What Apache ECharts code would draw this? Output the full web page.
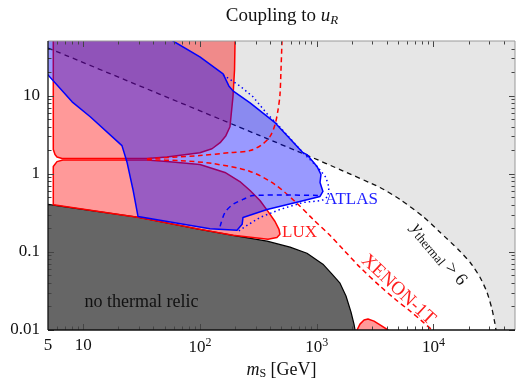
<!DOCTYPE html>
<html>
<head>
<meta charset="utf-8">
<script src="https://cdn.jsdelivr.net/npm/echarts@6/dist/echarts.min.js"></script>
<style>
  html, body { margin: 0; padding: 0; background: #fff; }
  #chart { width: 516px; height: 385px; }
</style>
</head>
<body>
<div id="chart"></div>
<script>
// ---- axis ticks ----
const xTickLabels = [5, 10, 100, 1000, 10000];
const yTickLabels = [0.01, 0.1, 1, 10];
const xMajorTicks = [10, 100, 1000, 10000];
const xMinorTicks = [6, 7, 8, 9, 20, 30, 40, 50, 60, 70, 80, 90, 200, 300, 400, 500, 600, 700, 800, 900,
  2000, 3000, 4000, 5000, 6000, 7000, 8000, 9000, 20000, 30000, 40000];
const yMajorTicks = [0.01, 0.1, 1, 10];
const yMinorTicks = [0.02, 0.03, 0.04, 0.05, 0.06, 0.07, 0.08, 0.09, 0.2, 0.3, 0.4, 0.5, 0.6, 0.7, 0.8, 0.9,
  2, 3, 4, 5, 6, 7, 8, 9, 20, 30, 40];

// ---- regions in the (m_S [GeV], coupling) plane ----
// y_thermal > 6 boundary
const thermalBoundary = [[5, 40.7], [327, 3.07], [877, 1.66], [1585, 1.13], [3491, 0.667], [5176, 0.469],
  [8147, 0.284], [11400, 0.178], [16250, 0.108], [20600, 0.0736], [25060, 0.0474], [28770, 0.0305],
  [31770, 0.0185], [33730, 0.0119], [34360, 0.01]];

// no thermal relic (upper edge)
const noRelicEdge = [[4.5, 0.41], [5, 0.405], [30.1, 0.276], [100, 0.194], [192, 0.163], [376, 0.137], [592, 0.115],
  [826, 0.096], [1132, 0.0695], [1355, 0.0518], [1585, 0.0398], [1784, 0.0272], [1968, 0.017],
  [2089, 0.0119], [2133, 0.01], [2150, 0.009]];

// LUX exclusion: two lobes meeting at the cancellation line
const luxUpperLobe = [[5.55, 60], [5.55, 2.04], [5.74, 1.76], [5.97, 1.64], [6.6, 1.57], [35.2, 1.57],
  [52.2, 1.64], [100, 1.86], [127, 2.09], [149, 2.5], [167, 3.07], [181, 4.0], [192, 9.66],
  [198, 21.3], [200, 50], [200, 60]];
const luxLowerLobe = [[6.7, 1.5], [35.2, 1.5], [52.2, 1.43], [100, 1.31], [164, 1.04], [220, 0.795],
  [269, 0.611], [327, 0.455], [383, 0.33], [440, 0.245], [476, 0.194], [485, 0.168], [457, 0.153],
  [383, 0.145], [192, 0.163], [100, 0.194], [30.1, 0.276], [5.55, 0.4], [5.55, 1.24], [5.97, 1.43]];
const luxHighMass = [[2218, 0.0095], [2218, 0.01], [2350, 0.0119], [2547, 0.0134], [2754, 0.0138],
  [3100, 0.013], [3491, 0.0116], [4083, 0.01], [4200, 0.0095]];

// ATLAS exclusion
const atlasRegion = [[4.5, 60], [58.9, 60], [58.9, 50], [100, 31.3], [158, 19.0], [177, 13.3], [192, 11.5],
  [269, 8.09], [440, 4.5], [764, 1.86], [826, 1.76], [1007, 1.24], [1089, 0.977], [1069, 0.772],
  [1132, 0.593], [1069, 0.512], [719, 0.442], [376, 0.349], [234, 0.276], [230, 0.225], [208, 0.189],
  [122, 0.197], [29.5, 0.284], [26.7, 0.629], [23.8, 1.39], [21.5, 2.29], [11.5, 5.37], [8.04, 8.33],
  [5, 18.4], [4.5, 20]];
const atlasDotted = [[158, 18.4], [220, 13.3], [285, 9.66], [376, 5.86], [448, 4.5], [764, 1.86],
  [1028, 1.2], [1203, 0.894], [1275, 0.667], [1250, 0.512], [1112, 0.455], [764, 0.429], [485, 0.349],
  [327, 0.276], [253, 0.218], [213, 0.183]];
const atlasDashed = [[149, 0.212], [164, 0.32], [192, 0.405], [234, 0.469], [285, 0.527], [1112, 0.527]];

// XENON-1T projection
const xenonUpper = [[35.2, 1.56], [100, 1.71], [181, 1.86], [269, 1.98], [340, 2.36], [398, 2.98],
  [440, 4.24], [467, 6.59], [485, 10.2], [495, 21.3], [505, 50]];
const xenonLower = [[35.2, 1.51], [67.6, 1.47], [129, 1.35], [269, 1.07], [440, 0.727], [679, 0.417],
  [931, 0.261], [1300, 0.163], [1683, 0.108], [2350, 0.0636], [3491, 0.0364], [4690, 0.0249],
  [6310, 0.0175], [7980, 0.013], [9730, 0.01]];

const SERIF = '"Liberation Serif", "Times New Roman", serif';

function shape(name, pts, o) {
  return {
    type: 'custom', name: name, coordinateSystem: 'cartesian2d', z: o.z, silent: true, clip: true,
    data: [pts[0]],
    renderItem: function (params, api) {
      return {
        type: o.closed ? 'polygon' : 'polyline',
        shape: { points: pts.map(function (p) { return api.coord(p); }), smooth: o.smooth || 0 },
        style: {
          fill: o.fill || 'none',
          stroke: o.stroke || 'none',
          lineWidth: o.lineWidth || 1,
          lineDash: o.dash || null,
          lineJoin: 'round'
        }
      };
    }
  };
}

const grayRegion = thermalBoundary.concat([[60000, 0.009], [60000, 60], [4.5, 60], [4.5, 40.9]]);
const noRelicRegion = noRelicEdge.concat([[4.5, 0.009]]);

// text annotations placed in data coordinates
const notes = [
  { text: 'ATLAS', at: [1180, 0.469], color: '#1f1fff', size: 17, align: 'left', angle: 0 },
  { text: 'LUX', at: [505, 0.178], color: '#ff1f1f', size: 17, align: 'left', angle: 0 },
  { text: 'no thermal relic', at: [31.6, 0.0227], color: '#111', size: 18, align: 'center', angle: 0 },
  { text: 'XENON-1T', at: [5000, 0.0327], color: '#ff1f1f', size: 19, align: 'center', angle: -43 },
  { text: '{y|y}{s|thermal}{t| > 6}', at: [11170, 0.0931], color: '#111', size: 18, align: 'center', angle: -50 }
];

const chart = echarts.init(document.getElementById('chart'), null, { renderer: 'canvas' });

const option = {
  animation: false,
  backgroundColor: '#fff',
  grid: { left: 48, right: 1, top: 41, bottom: 54, containLabel: false },
  graphic: [{
    type: 'text', x: 282, y: 16,
    style: {
      text: 'Coupling to {u|u}{r|R}', fill: '#111', font: '19px ' + SERIF,
      align: 'center', verticalAlign: 'middle',
      rich: {
        u: { fontFamily: SERIF, fontSize: 19, fontStyle: 'italic', fill: '#111' },
        r: { fontFamily: SERIF, fontSize: 13, fontStyle: 'italic', fill: '#111', padding: [9, 0, 0, 0] }
      }
    }
  }],
  xAxis: {
    type: 'log', logBase: 10, min: 5, max: 50000,
    axisLine: { show: false }, axisTick: { show: false }, splitLine: { show: false }, minorTick: { show: false },
    axisLabel: {
      customValues: xTickLabels, margin: 7, color: '#111', fontFamily: SERIF, fontSize: 17,
      formatter: function (v) {
        if (v < 50) return String(Math.round(v));
        return '10{sup|' + Math.round(Math.log10(v)) + '}';
      },
      rich: { sup: { fontFamily: SERIF, fontSize: 12, color: '#111', padding: [0, 0, 9, 0] } }
    },
    name: '{m|m}{s|S} [GeV]', nameLocation: 'middle', nameGap: 30,
    nameTextStyle: {
      fontFamily: SERIF, fontSize: 18, color: '#111',
      rich: {
        m: { fontFamily: SERIF, fontSize: 18, fontStyle: 'italic', color: '#111' },
        s: { fontFamily: SERIF, fontSize: 12, color: '#111', padding: [8, 0, 0, 0] }
      }
    }
  },
  yAxis: {
    type: 'log', logBase: 10, min: 0.01, max: 50,
    axisLine: { show: false }, axisTick: { show: false }, splitLine: { show: false }, minorTick: { show: false },
    axisLabel: {
      customValues: yTickLabels, margin: 8, color: '#111', fontFamily: SERIF, fontSize: 17,
      formatter: function (v) { return String(v); }
    }
  },
  series: [
    shape('excluded y_thermal > 6', grayRegion, { closed: true, fill: '#e6e6e6', z: 1 }),
    shape('thermal boundary', thermalBoundary, { stroke: '#111', lineWidth: 1.3, dash: [5, 4], smooth: 0.2, z: 2 }),
    shape('no thermal relic', noRelicRegion, { closed: true, fill: '#666666', z: 3 }),
    shape('no thermal relic edge', noRelicEdge, { stroke: '#000', lineWidth: 1.2, z: 3 }),
    shape('LUX upper', luxUpperLobe, { closed: true, fill: 'rgba(255,0,0,0.4)', stroke: '#ff0000', lineWidth: 1.5, z: 4 }),
    shape('LUX lower', luxLowerLobe, { closed: true, fill: 'rgba(255,0,0,0.4)', stroke: '#ff0000', lineWidth: 1.5, z: 4 }),
    shape('LUX high mass', luxHighMass, { closed: true, fill: 'rgba(255,0,0,0.4)', stroke: '#ff0000', lineWidth: 1.5, z: 4 }),
    shape('ATLAS', atlasRegion, { closed: true, fill: 'rgba(0,0,255,0.4)', stroke: '#0000ff', lineWidth: 1.5, z: 5 }),
    shape('XENON-1T upper', xenonUpper, { stroke: '#ff0000', lineWidth: 1.5, dash: [5, 3.5], smooth: 0.3, z: 6 }),
    shape('XENON-1T lower', xenonLower, { stroke: '#ff0000', lineWidth: 1.5, dash: [5, 3.5], smooth: 0.3, z: 6 }),
    shape('ATLAS dotted', atlasDotted, { stroke: '#0000ff', lineWidth: 1.5, dash: [1.5, 3], z: 7 }),
    shape('ATLAS dashed', atlasDashed, { stroke: '#0000ff', lineWidth: 1.5, dash: [5, 4], smooth: 0.3, z: 7 }),
    {
      type: 'custom', name: 'annotations', coordinateSystem: 'cartesian2d', z: 8, silent: true,
      data: notes.map(function (n) { return n.at; }),
      renderItem: function (params, api) {
        const n = notes[params.dataIndex];
        const p = api.coord(n.at);
        return {
          type: 'text', x: p[0], y: p[1], rotation: n.angle * Math.PI / 180,
          style: {
            text: n.text, fill: n.color, fontFamily: SERIF, fontSize: n.size,
            align: n.align, verticalAlign: 'middle',
            rich: {
              y: { fontFamily: SERIF, fontSize: n.size, fontStyle: 'italic', fill: n.color },
              s: { fontFamily: SERIF, fontSize: 13, fill: n.color, padding: [8, 0, 0, 0] },
              t: { fontFamily: SERIF, fontSize: n.size, fill: n.color }
            }
          }
        };
      }
    },
    {
      type: 'custom', name: 'frame', coordinateSystem: 'cartesian2d', z: 9, silent: true,
      data: [[10, 1]],
      renderItem: function (params, api) {
        const cs = params.coordSys;
        const L = cs.x, T = cs.y, R = cs.x + cs.width, B = cs.y + cs.height;
        const kids = [];
        const tickStyle = { stroke: '#444', lineWidth: 1 };
        function xt(v, len) {
          const x = Math.round(api.coord([v, 1])[0]) + 0.5;
          kids.push({ type: 'line', shape: { x1: x, y1: B, x2: x, y2: B - len }, style: tickStyle });
          kids.push({ type: 'line', shape: { x1: x, y1: T, x2: x, y2: T + len }, style: tickStyle });
        }
        function yt(v, len) {
          const y = Math.round(api.coord([10, v])[1]) + 0.5;
          kids.push({ type: 'line', shape: { x1: L, y1: y, x2: L + len, y2: y }, style: tickStyle });
          kids.push({ type: 'line', shape: { x1: R, y1: y, x2: R - len, y2: y }, style: tickStyle });
        }
        xMajorTicks.forEach(function (v) { xt(v, 6); });
        xMinorTicks.forEach(function (v) { xt(v, 3.5); });
        yMajorTicks.forEach(function (v) { yt(v, 6); });
        yMinorTicks.forEach(function (v) { yt(v, 3.5); });
        kids.push({ type: 'line', shape: { x1: L, y1: T, x2: R, y2: T }, style: { stroke: '#999', lineWidth: 1 } });
        kids.push({ type: 'line', shape: { x1: R, y1: T, x2: R, y2: B }, style: { stroke: '#999', lineWidth: 1 } });
        kids.push({ type: 'line', shape: { x1: L, y1: B, x2: R, y2: B }, style: { stroke: '#111', lineWidth: 1.3 } });
        kids.push({ type: 'line', shape: { x1: L, y1: T, x2: L, y2: B }, style: { stroke: '#111', lineWidth: 1.3 } });
        return { type: 'group', children: kids };
      }
    }
  ]
};

chart.setOption(option);
</script>
</body>
</html>
